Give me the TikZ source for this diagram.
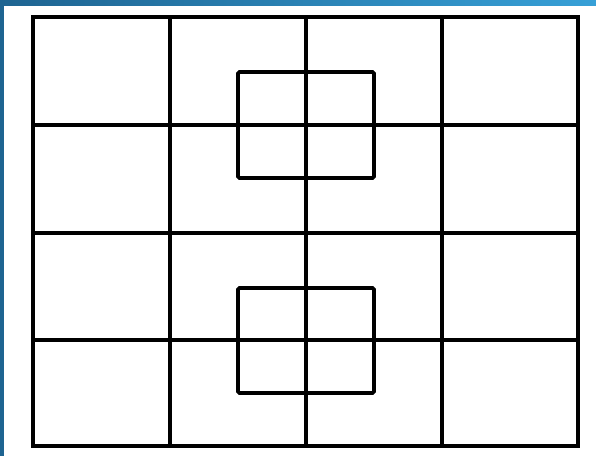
\documentclass[tikz,border=0pt]{standalone}
\begin{document}
\begin{tikzpicture}[x=1pt,y=-1pt,
  gridline/.style={line width=3.2pt,black},
  frameline/.style={line width=3.8pt,black,line join=miter},
  sqline/.style={line width=3.8pt,black,rounded corners=1.5pt}]
\definecolor{bluedark}{RGB}{30,100,145}
\definecolor{bluelight}{RGB}{55,160,215}
\useasboundingbox (0,0) rectangle (596,456);
\fill[white] (0,0) rectangle (596,456);
\shade[left color=bluedark,right color=bluelight] (0,0) rectangle (596,5);
\fill[bluedark] (0,0) rectangle (4,456);
% grid coordinates
\coordinate (tl) at (33,17);
\coordinate (br) at (578,446);
% interior grid lines
\foreach \x in {170,306,442} \draw[gridline] (\x,17) -- (\x,446);
\foreach \y in {125,233,340} \draw[gridline] (33,\y) -- (578,\y);
\draw[frameline] (tl) rectangle (br);
% squares
\draw[sqline] (238,72) rectangle (374,178);
\draw[sqline] (238,288) rectangle (374,393);
\end{tikzpicture}
\end{document}
